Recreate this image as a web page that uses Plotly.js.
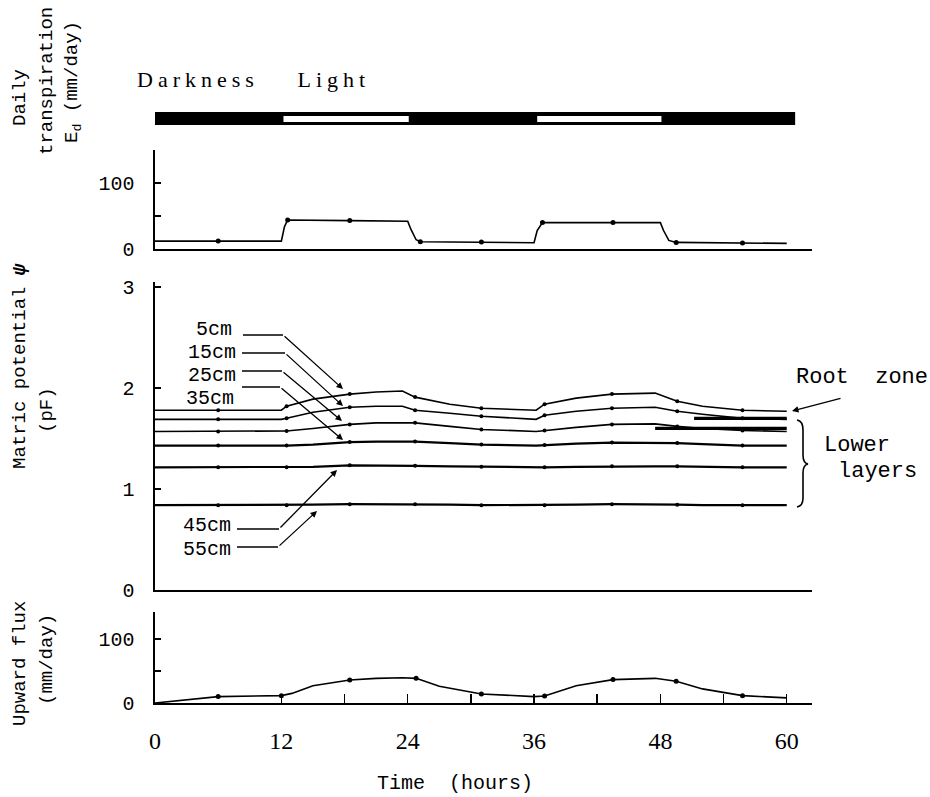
<!DOCTYPE html>
<html><head><meta charset="utf-8">
<script src="https://cdn.plot.ly/plotly-3.0.1.min.js"></script>
<style>body{margin:0;background:#fff}</style>
</head><body><div id="chart" style="width:930px;height:797px"></div>
<script>
// ---------- data ----------
const lightStart = [12.2, 36.3];
const lightEnd = [24.1, 48.1];
const barStart = 0;
const barEnd = 60.8;

// Daily transpiration Ed (mm/day)
const transX = [0, 6, 12, 12.3, 12.6, 18.5, 24, 24.3, 24.8, 25.2, 31, 36, 36.3, 36.8, 43.5, 48, 48.3, 48.8, 49.5, 55.8, 60];
const transY = [12, 12, 12, 34, 44, 43, 42, 30, 14, 11, 10.5, 9.5, 28, 40, 40, 40, 28, 13, 10, 9, 8.5];
const transDotX = [6, 12.6, 18.5, 25.2, 31, 36.8, 43.5, 49.5, 55.8];

// Matric potential psi (pF) at depths
const psiX = [0, 6, 12, 12.5, 15, 18.5, 21, 23.5, 24.7, 28, 31, 36.2, 37, 40, 43.4, 47.5, 49.6, 52, 55.8, 60];
const psi5cm  = [1.78, 1.78, 1.78, 1.82, 1.89, 1.94, 1.96, 1.97, 1.91, 1.84, 1.80, 1.78, 1.84, 1.90, 1.94, 1.95, 1.87, 1.82, 1.78, 1.77];
const psi15cm = [1.69, 1.69, 1.69, 1.70, 1.76, 1.81, 1.82, 1.82, 1.78, 1.75, 1.72, 1.69, 1.73, 1.77, 1.80, 1.81, 1.77, 1.74, 1.70, 1.69];
const psi25cm = [1.57, 1.57, 1.57, 1.575, 1.60, 1.64, 1.655, 1.66, 1.655, 1.62, 1.59, 1.57, 1.58, 1.61, 1.64, 1.645, 1.62, 1.60, 1.58, 1.57];
const psi35cm = [1.43, 1.43, 1.43, 1.43, 1.44, 1.465, 1.47, 1.47, 1.47, 1.455, 1.44, 1.43, 1.435, 1.45, 1.46, 1.46, 1.455, 1.445, 1.43, 1.43];
const psi45cm = [1.215, 1.215, 1.215, 1.215, 1.22, 1.235, 1.235, 1.235, 1.23, 1.225, 1.22, 1.215, 1.215, 1.22, 1.225, 1.225, 1.225, 1.22, 1.215, 1.215];
const psi55cm = [0.84, 0.84, 0.84, 0.84, 0.845, 0.85, 0.85, 0.85, 0.85, 0.845, 0.84, 0.84, 0.84, 0.845, 0.85, 0.85, 0.845, 0.84, 0.84, 0.84];
const psiDotX = [6, 12.5, 18.5, 24.7, 31, 37, 43.4, 49.6, 55.8];
const depthLabels = ['5cm', '15cm', '25cm', '35cm', '45cm', '55cm'];
// heavy root-zone segments at the right end
const rootSegStart = [51.2, 47.5];
const rootSegEnd = [60, 60];
const rootSegVal = [1.70, 1.60];

// Upward flux (mm/day)
const fluxX = [0, 3, 6, 12, 13, 15, 18.5, 21, 23.5, 24.8, 27, 31, 36, 37, 40, 43.5, 47.5, 49.5, 52, 55.8, 60];
const fluxY = [0, 5, 10, 11.5, 15, 27, 36, 38.5, 39.5, 38.5, 26, 14, 10, 11, 27, 36.5, 38.5, 34, 22, 11.5, 8];
const fluxDotX = [6, 12, 18.5, 24.8, 31, 37, 43.5, 49.5, 55.8];

const xTickVals = [0, 12, 18, 24, 30, 36, 42, 48, 54, 60];
const xTickText = ['0', '12', '', '24', '', '36', '', '48', '', '60'];

// ---------- layout helpers (pixel -> paper) ----------
const ML = 155, MT = 40, PW = 657, PH = 663;
const px = v => (v - ML) / PW;
const py = v => (MT + PH - v) / PH;

const pick = (xs, ys, sel) => sel.map(s => ys[xs.indexOf(s)]);

const LINE = {color: '#000', width: 1.6};
const DOT = {color: '#000', size: 5};
const traces = [];

traces.push({x: transX, y: transY, xaxis: 'x3', yaxis: 'y', mode: 'lines', line: LINE, hoverinfo: 'skip'});
traces.push({x: transDotX, y: pick(transX, transY, transDotX), xaxis: 'x3', yaxis: 'y', mode: 'markers', marker: DOT});

const psiSeries = [psi5cm, psi15cm, psi25cm, psi35cm, psi45cm, psi55cm];
psiSeries.forEach((s, i) => {
  traces.push({x: psiX, y: s, xaxis: 'x2', yaxis: 'y2', mode: 'lines', name: depthLabels[i],
    line: {color: '#000', width: i >= 3 ? 2.2 : 1.6}});
  traces.push({x: psiDotX, y: pick(psiX, s, psiDotX), xaxis: 'x2', yaxis: 'y2', mode: 'markers', marker: {color: '#000', size: 4}});
});
rootSegVal.forEach((v, i) => {
  traces.push({x: [rootSegStart[i], rootSegEnd[i]], y: [v, v], xaxis: 'x2', yaxis: 'y2', mode: 'lines', line: {color: '#000', width: 3.2}});
});

traces.push({x: fluxX, y: fluxY, xaxis: 'x', yaxis: 'y3', mode: 'lines', line: LINE, hoverinfo: 'skip'});
traces.push({x: fluxDotX, y: pick(fluxX, fluxY, fluxDotX), xaxis: 'x', yaxis: 'y3', mode: 'markers', marker: DOT});

// ---------- shapes ----------
const shapes = [];
// darkness / light bar
shapes.push({type: 'rect', xref: 'x', yref: 'paper', x0: barStart, x1: barEnd, y0: py(125), y1: py(112), fillcolor: '#000', line: {width: 0}});
lightStart.forEach((s, i) => {
  shapes.push({type: 'rect', xref: 'x', yref: 'paper', x0: s, x1: lightEnd[i], y0: py(122), y1: py(116), fillcolor: '#fff', line: {width: 0}});
});
// leader lines for depth labels
const leaders = [[243, 283, 335], [242, 285, 353], [242, 282, 371], [242, 280, 387], [237, 279, 529], [237, 278, 547]];
leaders.forEach(l => shapes.push({type: 'line', xref: 'paper', yref: 'paper', x0: px(l[0]), x1: px(l[1]), y0: py(l[2]), y1: py(l[2]), line: {color: '#000', width: 1.3}}));
// brace for lower layers
const bp = (a, b) => px(a).toFixed(5) + ',' + py(b).toFixed(5);
shapes.push({type: 'path', xref: 'paper', yref: 'paper',
  path: 'M' + bp(797, 420) + ' Q' + bp(803, 421) + ' ' + bp(803, 430) + ' L' + bp(803, 455) + ' Q' + bp(803, 463) + ' ' + bp(808, 464) +
        ' Q' + bp(803, 465) + ' ' + bp(803, 473) + ' L' + bp(803, 498) + ' Q' + bp(803, 506) + ' ' + bp(797, 507),
  line: {color: '#000', width: 1.6}});

// ---------- annotations ----------
const MONO = 'Courier New, Liberation Mono, monospace';
const SERIF = 'Liberation Serif, Times New Roman, serif';
const ann = [];
const txt = (t, x, y, o) => Object.assign({text: t, xref: 'paper', yref: 'paper', x: px(x), y: py(y), showarrow: false,
  xanchor: 'center', yanchor: 'middle', font: {family: MONO, size: 19, color: '#000'}}, o || {});

// left titles
ann.push(txt('Daily', 20, 98, {textangle: -90}));
ann.push(txt('transpiration', 47, 81, {textangle: -90}));
ann.push(txt('E<sub>d</sub> (mm/day)', 73, 82, {textangle: -90}));
ann.push(txt('Matric potential <b><i>ψ</i></b>', 20, 366, {textangle: -90}));
ann.push(txt('(pF)', 47, 410, {textangle: -90}));
ann.push(txt('Upward flux', 20, 664, {textangle: -90}));
ann.push(txt('(mm/day)', 47, 660, {textangle: -90}));

// darkness / light words
ann.push(txt('Darkness', 198, 79, {font: {family: SERIF, size: 22, color: '#000'}}));
ann.push(txt('Light', 334, 79, {font: {family: SERIF, size: 22, color: '#000'}}));

// depth labels
const depthPos = [[234, 329], [238, 352], [238, 375], [236, 398], [233, 525], [233, 549]];
depthLabels.forEach((d, i) => ann.push(txt(d, depthPos[i][0], depthPos[i][1], {xanchor: 'right', font: {family: MONO, size: 20, color: '#000'}})));
// arrows: [tailX, tailY, headX, headY]
const arrows = [[283, 335, 343, 389], [285, 353, 343, 406], [282, 371, 342, 421], [280, 387, 343, 440], [279, 529, 337, 470], [278, 547, 317, 511], [842, 398, 792, 411]];
arrows.forEach(a => ann.push({text: '', xref: 'paper', yref: 'paper', x: px(a[2]), y: py(a[3]), ax: a[0] - a[2], ay: a[1] - a[3],
  showarrow: true, arrowhead: 2, arrowsize: 1, arrowwidth: 1.3, arrowcolor: '#000', standoff: 0, startstandoff: 0}));

ann.push(txt('Root\u00a0\u00a0zone', 862, 377, {font: {family: MONO, size: 22, color: '#000'}}));
ann.push(txt('Lower', 822, 445, {xanchor: 'left', font: {family: MONO, size: 22, color: '#000'}}));
ann.push(txt('layers', 836, 471, {xanchor: 'left', font: {family: MONO, size: 22, color: '#000'}}));
ann.push(txt('Time\u00a0\u00a0(hours)', 455, 783, {font: {family: MONO, size: 20, color: '#000'}}));

// ---------- axes ----------
const yBase = {showline: true, linecolor: '#000', linewidth: 2.5, ticks: 'inside', ticklen: 6, tickwidth: 1.3, tickcolor: '#000',
  showgrid: false, zeroline: false, tickfont: {family: MONO, size: 20, color: '#000'}, ticklabelstandoff: 14, fixedrange: true};
const xBase = {showline: true, linecolor: '#000', linewidth: 2, showgrid: false, zeroline: false, range: [0, 62.4], fixedrange: true};

const layout = {
  width: 930, height: 797, paper_bgcolor: '#fff', plot_bgcolor: '#fff', showlegend: false,
  margin: {l: ML, r: 930 - ML - PW, t: MT, b: 797 - MT - PH},
  xaxis: Object.assign({}, xBase, {anchor: 'y3', ticks: 'inside', ticklen: 9, tickwidth: 1.5, tickcolor: '#000',
    tickvals: xTickVals, ticktext: xTickText, tickfont: {family: SERIF, size: 24, color: '#000'}, ticklabelstandoff: 15}),
  xaxis2: Object.assign({}, xBase, {anchor: 'y2', matches: 'x', ticks: '', showticklabels: false}),
  xaxis3: Object.assign({}, xBase, {anchor: 'y', matches: 'x', ticks: '', showticklabels: false}),
  yaxis: Object.assign({}, yBase, {anchor: 'x3', domain: [py(249), py(150)], range: [0, 150], tickvals: [0, 50, 100], ticktext: ['0', '', '100']}),
  yaxis2: Object.assign({}, yBase, {anchor: 'x2', domain: [py(590), py(282)], range: [0, 3.05], tickvals: [0, 1, 2, 3]}),
  yaxis3: Object.assign({}, yBase, {anchor: 'x', domain: [py(703), py(612)], range: [0, 142], tickvals: [0, 50, 100], ticktext: ['0', '', '100']}),
  shapes: shapes, annotations: ann
};

Plotly.newPlot('chart', traces, layout, {displayModeBar: false, staticPlot: true}).then(gd => {
  gd.querySelectorAll('.annotation-text').forEach(t => {
    const s = t.textContent;
    if (s === 'Darkness' || s === 'Light') { t.setAttribute('letter-spacing', '5px'); }
  });
});
</script></body></html>
